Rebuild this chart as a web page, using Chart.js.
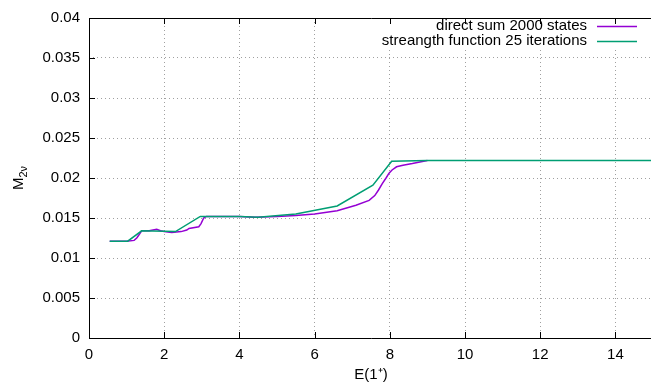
<!DOCTYPE html>
<html>
<head>
<meta charset="utf-8">
<script src="https://cdn.jsdelivr.net/npm/chart.js@4/dist/chart.umd.min.js"></script>
<style>
html, body { margin: 0; padding: 0; background: #fff; overflow: hidden; }
</style>
</head>
<body>
<canvas id="chart" width="653" height="385"></canvas>
<script>
// Data
const directLabel = 'direct sum 2000 states';
const directE = [0.55, 1.0, 1.2, 1.27, 1.33, 1.4, 1.6, 1.8, 1.9, 2.0, 2.2, 2.45, 2.6, 2.66, 2.92, 2.98, 3.05, 3.12, 3.5, 4.0, 4.4, 5.0, 5.5, 6.0, 6.6, 7.1, 7.45, 7.6, 7.7, 7.8, 7.9, 7.98, 8.06, 8.18, 8.35, 8.6, 9.0];
const directM = [0.0121, 0.0121, 0.0122, 0.0125, 0.0129, 0.0134, 0.0134, 0.0136, 0.0134, 0.0133, 0.0132, 0.0133, 0.0135, 0.0137, 0.0139, 0.0143, 0.0150, 0.0152, 0.0152, 0.0152, 0.0151, 0.0152, 0.0153, 0.0155, 0.0159, 0.0166, 0.0172, 0.0178, 0.0185, 0.0193, 0.0200, 0.0206, 0.0210, 0.0214, 0.0216, 0.0218, 0.0222];

const strengthLabel = 'streangth function 25 iterations';
const strengthE = [0.55, 1.03, 1.4, 2.3, 2.96, 3.5, 4.0, 4.5, 5.5, 6.6, 7.55, 8.05, 9.0, 15.0];
const strengthM = [0.0121, 0.0121, 0.0134, 0.0133, 0.0152, 0.0152, 0.0152, 0.0151, 0.0155, 0.0165, 0.0191, 0.0221, 0.0222, 0.0222];

const xTicks = [0, 2, 4, 6, 8, 10, 12, 14];
const yTicks = [0, 0.005, 0.01, 0.015, 0.02, 0.025, 0.03, 0.035, 0.04];

const colors = {
    purple: '#9400d3',
    green: '#009e73',
    grid: '#a0a0a0'
};

const FONT = '"Liberation Sans", Arial, sans-serif';

function toPoints(xs, ys) {
    return xs.map((x, i) => ({ x: x, y: ys[i] }));
}

// gnuplot-like frame, inward ticks, key and y label
const gnuplotBits = {
    id: 'gnuplotBits',
    afterDraw(chart) {
        const ctx = chart.ctx;
        const a = chart.chartArea;
        const xs = chart.scales.x;
        const ys = chart.scales.y;
        ctx.save();

        // key (opaque box, text right-aligned, sample on the right)
        ctx.font = '15px ' + FONT;
        const rows = [
            { label: directLabel, color: colors.purple, y: 26 },
            { label: strengthLabel, color: colors.green, y: 41 }
        ];
        const textRight = 587;
        let widest = 0;
        rows.forEach(r => { widest = Math.max(widest, ctx.measureText(r.label).width); });
        ctx.fillStyle = '#fff';
        ctx.fillRect(textRight - widest - 5, a.top + 1, a.right - (textRight - widest - 5), 48 - a.top);
        ctx.textAlign = 'right';
        ctx.textBaseline = 'middle';
        rows.forEach(r => {
            ctx.fillStyle = '#000';
            ctx.fillText(r.label, textRight, r.y);
            ctx.strokeStyle = r.color;
            ctx.lineWidth = 1.5;
            ctx.beginPath();
            ctx.moveTo(597, r.y + 0.5);
            ctx.lineTo(637, r.y + 0.5);
            ctx.stroke();
        });

        // border
        ctx.strokeStyle = '#000';
        ctx.lineWidth = 1;
        ctx.beginPath();
        ctx.moveTo(a.right, a.top + 0.5);
        ctx.lineTo(a.left + 0.5, a.top + 0.5);
        ctx.lineTo(a.left + 0.5, a.bottom + 0.5);
        ctx.lineTo(a.right, a.bottom + 0.5);
        ctx.stroke();

        // inward ticks
        ctx.beginPath();
        xTicks.forEach(v => {
            const px = Math.round(xs.getPixelForValue(v)) + 0.5;
            ctx.moveTo(px, a.bottom);
            ctx.lineTo(px, a.bottom - 6);
            ctx.moveTo(px, a.top);
            ctx.lineTo(px, a.top + 6);
        });
        yTicks.forEach(v => {
            const py = Math.round(ys.getPixelForValue(v)) + 0.5;
            ctx.moveTo(a.left, py);
            ctx.lineTo(a.left + 6, py);
        });
        ctx.stroke();

        // y axis label M_{2nu}, rotated
        ctx.fillStyle = '#000';
        ctx.translate(18, (a.top + a.bottom) / 2);
        ctx.rotate(-Math.PI / 2);
        ctx.textAlign = 'left';
        ctx.textBaseline = 'alphabetic';
        ctx.font = '15px ' + FONT;
        const wM = ctx.measureText('M').width;
        ctx.font = '11px ' + FONT;
        const wSub = ctx.measureText('2ν').width;
        const start = -(wM + wSub) / 2;
        ctx.font = '15px ' + FONT;
        ctx.fillText('M', start, 5);
        ctx.font = '11px ' + FONT;
        ctx.fillText('2ν', start + wM, 9);

        ctx.restore();
    }
};

const ctx = document.getElementById('chart');
window.m2vChart = new Chart(ctx, {
    type: 'line',
    data: {
        datasets: [
            {
                label: strengthLabel,
                data: toPoints(strengthE, strengthM),
                borderColor: colors.green,
                borderWidth: 1.5,
                pointRadius: 0,
                tension: 0,
                fill: false,
                order: 0
            },
            {
                label: directLabel,
                data: toPoints(directE, directM),
                borderColor: colors.purple,
                borderWidth: 1.5,
                pointRadius: 0,
                tension: 0,
                fill: false,
                order: 1
            }
        ]
    },
    options: {
        responsive: false,
        animation: false,
        devicePixelRatio: 1,
        layout: { padding: { top: 13, right: 0, left: 0, bottom: 0 } },
        plugins: {
            legend: { display: false },
            tooltip: { enabled: false }
        },
        scales: {
            x: {
                type: 'linear',
                min: 0,
                max: 15,
                afterBuildTicks: scale => { scale.ticks = xTicks.map(v => ({ value: v })); },
                afterFit: scale => { scale.height = 47; },
                grid: { color: colors.grid, lineWidth: 1, drawTicks: false },
                border: { display: false, dash: [1, 3] },
                ticks: {
                    color: '#000',
                    font: { family: FONT, size: 15 },
                    padding: 8,
                    maxRotation: 0,
                    autoSkip: false
                },
                title: {
                    display: true,
                    text: 'E(1⁺)',
                    color: '#000',
                    font: { family: FONT, size: 15 },
                    padding: { top: 0, bottom: 1 }
                }
            },
            y: {
                type: 'linear',
                min: 0,
                max: 0.04,
                afterBuildTicks: scale => { scale.ticks = yTicks.map(v => ({ value: v })); },
                afterFit: scale => { scale.width = 89; },
                grid: { color: colors.grid, lineWidth: 1, drawTicks: false },
                border: { display: false, dash: [1, 3] },
                ticks: {
                    color: '#000',
                    font: { family: FONT, size: 15 },
                    padding: 9,
                    callback: v => String(v)
                }
            }
        }
    },
    plugins: [gnuplotBits]
});
</script>
</body>
</html>
